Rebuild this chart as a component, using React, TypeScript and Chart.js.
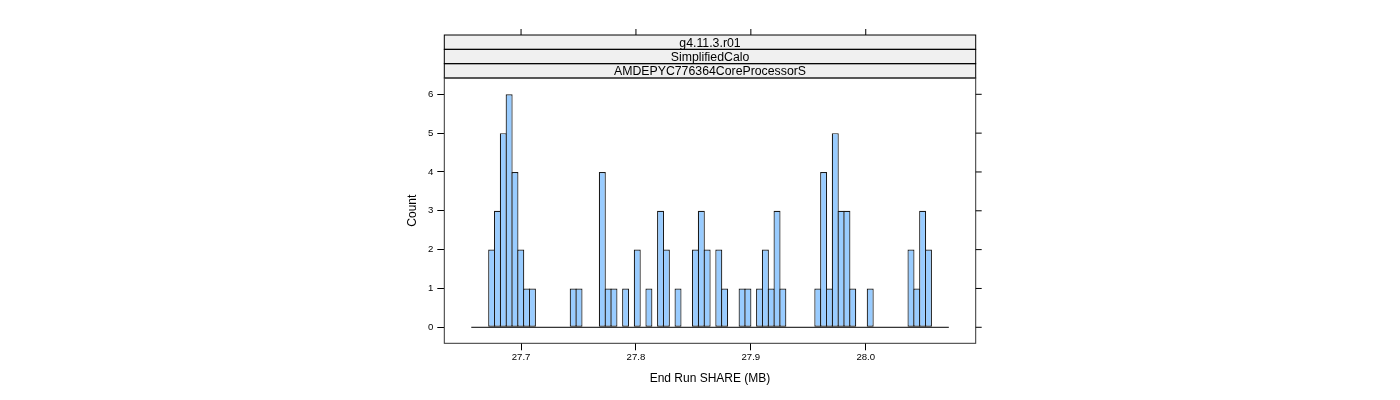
import React, { useEffect, useRef } from "react";
import { Chart, registerables } from "chart.js";

Chart.register(...registerables);

// ---- data ----
const stripLabels = ["g4.11.3.r01", "SimplifiedCalo", "AMDEPYC776364CoreProcessorS"];
const binStart = 27.65668; // left edge of first histogram bin (MB)
const binWidth = 0.0050688; // histogram bin width (MB)
const binCounts = [
  0, 0, 0,
  2, 3, 5, 6, 4, 2, 1, 1,
  0, 0, 0, 0, 0, 0,
  1, 1,
  0, 0, 0,
  4, 1, 1,
  0, 1, 0, 2, 0, 1, 0,
  3, 2,
  0, 1, 0, 0,
  2, 3, 2,
  0, 2, 1,
  0, 0,
  1, 1,
  0,
  1, 2, 1, 3, 1,
  0, 0, 0, 0, 0,
  1, 4, 1, 5, 3, 3, 1,
  0, 0,
  1,
  0, 0, 0, 0, 0, 0,
  2, 1, 3, 2,
  0, 0, 0,
];
const xTicks = [27.7, 27.8, 27.9, 28.0];
const yTicks = [0, 1, 2, 3, 4, 5, 6];
const xTitle = "End Run SHARE (MB)";
const yTitle = "Count";

const FONT = "'Liberation Sans', Arial, Helvetica, sans-serif";

const latticePlugin = {
  id: "latticePanel",
  afterDraw(chart: any) {
    const { ctx, chartArea: a, scales } = chart;
    const xs = scales.x;
    const ys = scales.y;
    const n = stripLabels.length;
    const sh = 14.33;
    const top0 = a.top - n * sh;
    ctx.save();
    // strips
    for (let i = 0; i < n; i++) {
      const t = top0 + i * sh;
      ctx.fillStyle = "#f0f0f0";
      ctx.fillRect(a.left, t, a.right - a.left, sh);
    }
    ctx.strokeStyle = "#000";
    ctx.lineWidth = 1;
    for (let i = 0; i < n; i++) {
      const t = top0 + i * sh;
      ctx.strokeRect(a.left, t, a.right - a.left, sh);
      ctx.fillStyle = "#000";
      ctx.font = `12.3px ${FONT}`;
      ctx.textAlign = "center";
      ctx.textBaseline = "middle";
      ctx.fillText(stripLabels[i], (a.left + a.right) / 2, t + sh / 2 + 1.2);
    }
    // panel border
    ctx.strokeStyle = "#333";
    ctx.strokeRect(a.left, a.top, a.right - a.left, a.bottom - a.top);
    // top ticks
    ctx.strokeStyle = "#000";
    ctx.beginPath();
    for (const v of xTicks) {
      const px = xs.getPixelForValue(v);
      ctx.moveTo(px, top0);
      ctx.lineTo(px, top0 - 6);
    }
    // right ticks
    for (const v of yTicks) {
      const py = ys.getPixelForValue(v);
      ctx.moveTo(a.right, py);
      ctx.lineTo(a.right + 6, py);
    }
    ctx.stroke();
    ctx.restore();
  },
};

export default function App() {
  const ref = useRef<HTMLCanvasElement>(null);
  useEffect(() => {
    if (!ref.current) return;
    Chart.defaults.font.family = FONT;
    const bars = binCounts.map((c, i) => ({ x: binStart + (i + 0.5) * binWidth, y: c }));
    const baseline = [
      { x: binStart, y: 0 },
      { x: binStart + binCounts.length * binWidth, y: 0 },
    ];
    const chart = new Chart(ref.current, {
      type: "bar",
      data: {
        datasets: [
          {
            type: "line",
            data: baseline,
            borderColor: "#000",
            borderWidth: 1,
            pointRadius: 0,
            order: 0,
          } as any,
          {
            type: "bar",
            data: bars,
            backgroundColor: "#99CCFF",
            borderColor: "#1a1a1a",
            borderWidth: 1.2,
            borderSkipped: false,
            inflateAmount: 0,
            barPercentage: 1.2,
            categoryPercentage: 1,
            grouped: false,
            order: 1,
          } as any,
        ],
      },
      options: {
        animation: false,
        responsive: true,
        maintainAspectRatio: false,
        layout: { padding: { left: 380, top: 70, right: 416.3, bottom: 0 } },
        plugins: { legend: { display: false }, tooltip: { enabled: false } },
        scales: {
          x: {
            type: "linear",
            position: "bottom",
            offset: false,
            min: 27.6332,
            max: 28.0957,
            afterBuildTicks: (s: any) => {
              s.ticks = xTicks.map((v) => ({ value: v }));
            },
            afterFit: (s: any) => {
              s.height = 48.7;
            },
            grid: { offset: false, drawOnChartArea: false, drawTicks: true, tickLength: 7, color: "#000" },
            border: { display: false },
            ticks: {
              color: "#000",
              font: { size: 9.6 },
              padding: 1.5,
              maxRotation: 0,
              callback: (v: any) => Number(v).toFixed(1),
            },
            title: {
              display: true,
              text: xTitle,
              color: "#000",
              font: { size: 12 },
              padding: { top: 0, bottom: 6 },
            },
          },
          y: {
            type: "linear",
            position: "left",
            min: -0.4125,
            max: 6.42,
            afterBuildTicks: (s: any) => {
              s.ticks = yTicks.map((v) => ({ value: v }));
            },
            afterFit: (s: any) => {
              s.width = 56.3;
            },
            grid: { drawOnChartArea: false, drawTicks: true, tickLength: 7, color: "#000" },
            border: { display: false },
            ticks: {
              color: "#000",
              font: { size: 9.6 },
              padding: 4,
              callback: (v: any) => String(v),
            },
            title: {
              display: true,
              text: yTitle,
              color: "#000",
              font: { size: 12 },
              padding: { top: 17.8, bottom: 0 },
            },
          },
        },
      },
      plugins: [latticePlugin],
    });
    return () => chart.destroy();
  }, []);
  return (
    <div style={{ width: 1384, height: 384, position: "relative" }}>
      <canvas ref={ref} />
    </div>
  );
}
